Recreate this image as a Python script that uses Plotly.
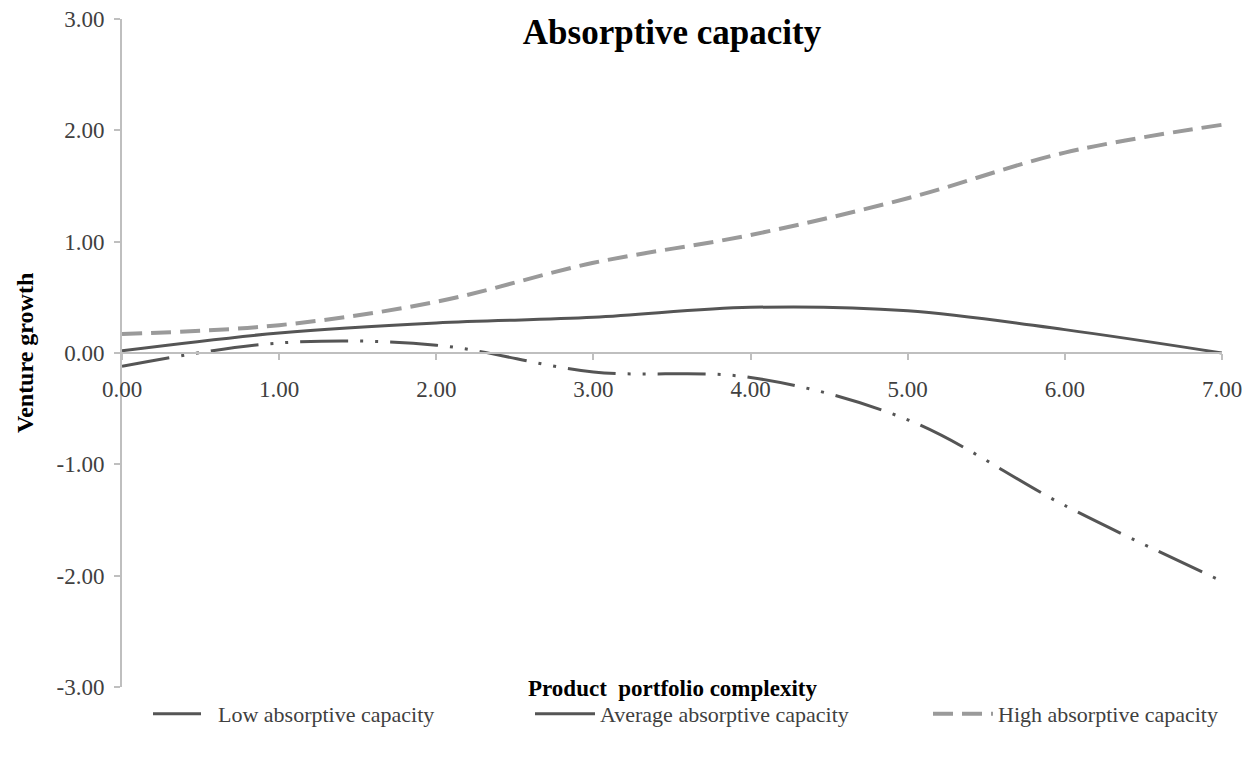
import plotly.graph_objects as go

x_vals = [0, 1, 2, 3, 4, 5, 6, 7]
low_vals = [-0.12, 0.09, 0.07, -0.17, -0.22, -0.60, -1.37, -2.05]
avg_vals = [0.02, 0.18, 0.27, 0.32, 0.41, 0.38, 0.21, 0.00]
high_vals = [0.17, 0.25, 0.46, 0.81, 1.06, 1.39, 1.80, 2.05]
x_ticks = [0, 1, 2, 3, 4, 5, 6, 7]
y_ticks = [-3, -2, -1, 0, 1, 2, 3]
names = ["Low absorptive capacity", "Average absorptive capacity", "High absorptive capacity"]

FONT = "Liberation Serif"
L, R, T, B = 122, 35, 19, 70
W, H = 1257, 757
PW, PH = W - L - R, H - T - B


def px_x(p):
    return (p - L) / PW


def px_y(p):
    return (H - B - p) / PH


fig = go.Figure()
fig.add_trace(go.Scatter(x=x_vals, y=low_vals, mode="lines", name=names[0], legend="legend",
                         line=dict(color="#555555", width=3, shape="spline", smoothing=1,
                                   dash="48px,12px,3px,12px,3px,12px")))
fig.add_trace(go.Scatter(x=x_vals, y=avg_vals, mode="lines", name=names[1], legend="legend2",
                         line=dict(color="#555555", width=3, shape="spline", smoothing=1)))
fig.add_trace(go.Scatter(x=x_vals, y=high_vals, mode="lines", name=names[2], legend="legend3",
                         line=dict(color="#9a9a9a", width=4, shape="spline", smoothing=1,
                                   dash="20px,9px")))

leg_common = dict(orientation="h", xanchor="left", y=px_y(714), yanchor="middle",
                  font=dict(family=FONT, size=22, color="#404040"), itemwidth=60,
                  bgcolor="rgba(0,0,0,0)")

fig.update_layout(
    width=W, height=H,
    margin=dict(l=L, r=R, t=T, b=B, autoexpand=False),
    paper_bgcolor="white", plot_bgcolor="white",
    font=dict(family=FONT, color="#404040", size=22),
    title=dict(text="<b>Absorptive capacity</b>", x=0.5, xref="paper", xanchor="center",
               y=1 - 32 / H, yref="container", yanchor="middle",
               font=dict(family=FONT, size=35, color="#000000")),
    showlegend=True,
    legend=dict(x=px_x(148), **leg_common),
    legend2=dict(x=px_x(530), **leg_common),
    legend3=dict(x=px_x(928), **leg_common),
    xaxis=dict(range=[0, 7], tickvals=x_ticks, ticktext=[f"{v:.2f}" for v in x_ticks],
               anchor="free", position=0.5, showline=True, linecolor="#bfbfbf", linewidth=2,
               ticks="outside", ticklen=6, tickcolor="#bfbfbf", tickwidth=2, automargin=False,
               ticklabelstandoff=9,
               showgrid=False, zeroline=False, tickfont=dict(family=FONT, size=23, color="#404040")),
    yaxis=dict(range=[-3, 3], tickvals=y_ticks, ticktext=[f"{v:.2f}" for v in y_ticks],
               showline=True, linecolor="#bfbfbf", linewidth=2, automargin=False,
               ticks="outside", ticklen=6, tickcolor="#bfbfbf", tickwidth=2,
               ticklabelstandoff=5,
               showgrid=False, zeroline=False,
               tickfont=dict(family=FONT, size=23, color="#404040")),
)

fig.add_annotation(text="<b>Product\u00a0 portfolio complexity</b>", xref="paper", yref="paper",
                   x=0.5, y=px_y(688), xanchor="center", yanchor="middle", showarrow=False,
                   font=dict(family=FONT, size=23, color="#000000"))
fig.add_annotation(text="<b>Venture growth</b>", xref="paper", yref="paper", textangle=-90,
                   x=px_x(25), y=px_y(353), xanchor="center", yanchor="middle", showarrow=False,
                   font=dict(family=FONT, size=24, color="#000000"))

fig.write_html("out.html", config={"displayModeBar": False},
               post_script="document.body.style.margin='0';")
